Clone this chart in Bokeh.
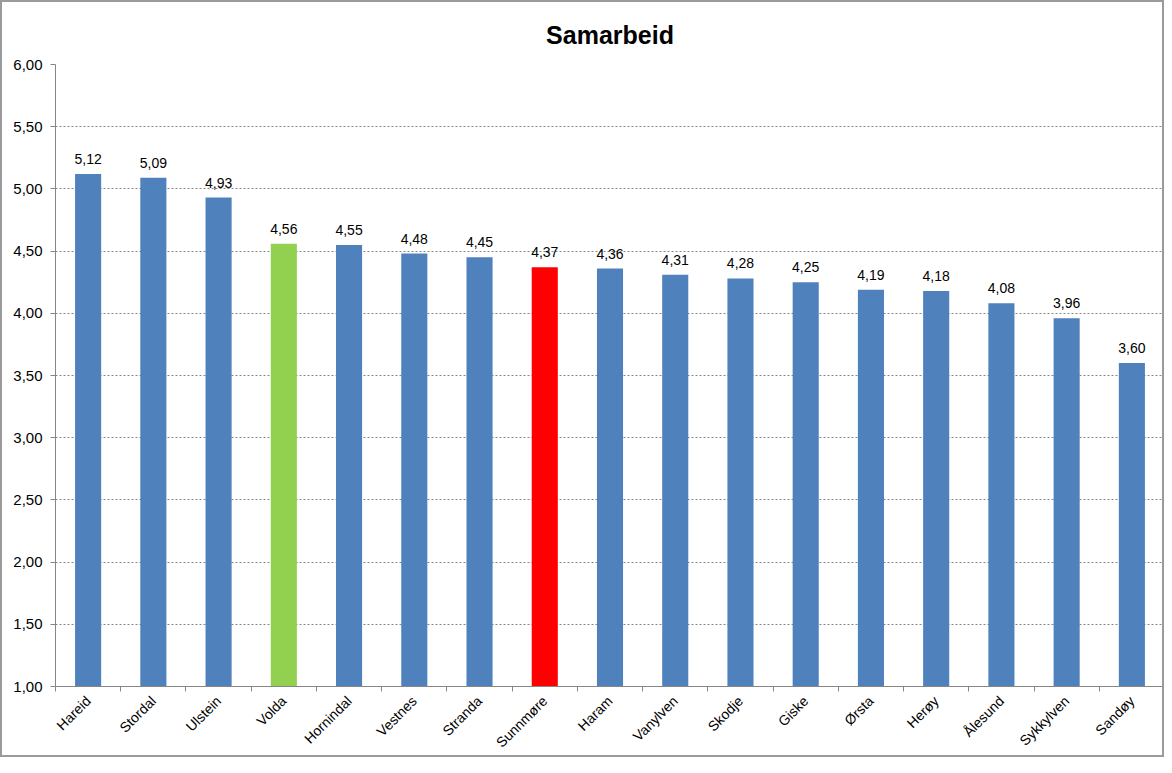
from math import pi
from bokeh.plotting import figure
from bokeh.models import (ColumnDataSource, Range1d, FixedTicker, CustomJSTickFormatter,
                          LabelSet, SingleIntervalTicker)
from bokeh.core.properties import value
from bokeh.embed import file_html
from bokeh.resources import INLINE

categories = ["Hareid", "Stordal", "Ulstein", "Volda", "Hornindal", "Vestnes", "Stranda",
              "Sunnmøre", "Haram", "Vanylven", "Skodje", "Giske", "Ørsta", "Herøy",
              "Ålesund", "Sykkylven", "Sandøy"]
values = [5.12, 5.09, 4.93, 4.56, 4.55, 4.48, 4.45, 4.37, 4.36, 4.31, 4.28, 4.25, 4.19,
          4.18, 4.08, 3.96, 3.60]
highlight = {"Volda": "#92D050", "Sunnmøre": "#FF0000"}
base_color = "#4F81BD"

FONT = "Liberation Sans"
GRAY = "#868686"

xs = [i + 0.5 for i in range(len(categories))]
colors = [highlight.get(c, base_color) for c in categories]
labels = [f"{v:.2f}".replace(".", ",") for v in values]

source = ColumnDataSource(dict(x=xs, top=values, color=colors, label=labels, cat=categories))

p = figure(width=1164, height=757, output_backend="svg", toolbar_location=None,
           x_range=Range1d(0, len(categories)), y_range=Range1d(1, 6),
           min_border_left=53, min_border_right=2, min_border_top=0, min_border_bottom=71,
           title="Samarbeid")
p.styles = {"border": "2px solid #9a9a9a"}

p.title.align = "center"
p.title.text_font = FONT
p.title.text_font_size = "25px"
p.title.text_font_style = "bold"
p.title.text_color = "black"
p.title.standoff = 32
p.title.offset = -20

p.vbar(x="x", top="top", bottom=1, width=0.4, color="color", line_color=None, source=source)

p.add_layout(LabelSet(x="x", y="top", text="label", source=source, text_align="center",
                      text_baseline="bottom", y_offset=10, text_font=value(FONT),
                      text_font_size=value("14px"), text_color="black"))

# x axis
xa = p.xaxis[0]
xa.ticker = FixedTicker(ticks=xs, minor_ticks=list(range(len(categories) + 1)))
xa.major_label_overrides = {x: c for x, c in zip(xs, categories)}
xa.major_label_orientation = pi / 4
xa.major_tick_line_color = None
xa.minor_tick_line_color = GRAY
xa.minor_tick_in = 0
xa.minor_tick_out = 5
xa.axis_line_color = GRAY
xa.major_label_text_font = FONT
xa.major_label_text_font_size = "14px"
xa.major_label_text_color = "black"
xa.major_label_standoff = 6

# y axis
ya = p.yaxis[0]
ya.ticker = SingleIntervalTicker(interval=0.5, num_minor_ticks=0)
ya.formatter = CustomJSTickFormatter(code="return tick.toFixed(2).replace('.', ',');")
ya.axis_line_color = GRAY
ya.major_tick_line_color = GRAY
ya.major_tick_in = 0
ya.major_tick_out = 5
ya.minor_tick_line_color = None
ya.major_label_text_font = FONT
ya.major_label_text_font_size = "15px"
ya.major_label_text_color = "black"
ya.major_label_standoff = 8

p.xgrid.grid_line_color = None
p.ygrid.grid_line_color = GRAY
p.ygrid.grid_line_dash = "2 2"
p.ygrid.grid_line_width = 1
p.ygrid.ticker = SingleIntervalTicker(interval=0.5, num_minor_ticks=0)
p.outline_line_color = None

open("out.html", "w").write(file_html(p, INLINE))
